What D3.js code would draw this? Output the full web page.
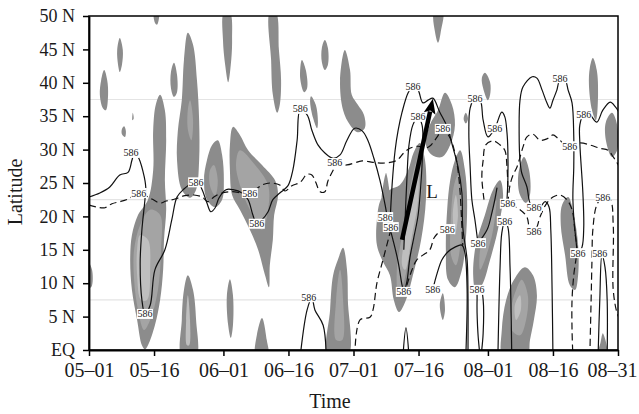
<!DOCTYPE html>
<html>
<head>
<meta charset="utf-8">
<script src="https://cdnjs.cloudflare.com/ajax/libs/d3/7.8.5/d3.min.js"></script>
<style>
	body { margin: 0; background: #fff; }
	svg text { font-family: "Liberation Serif", "Times New Roman", serif; fill: #1a1a1a; }
</style>
</head>
<body>
<svg id="chart" width="639" height="414"></svg>
<script>
"use strict";

// axes
var latTicks = [0, 5, 10, 15, 20, 25, 30, 35, 40, 45, 50];
var latLabels = ['EQ', '5 N', '10 N', '15 N', '20 N', '25 N', '30 N', '35 N', '40 N', '45 N', '50 N'];
var dayTicks = [0, 15, 31, 46, 61, 76, 92, 107, 122];   // days since 05-01
var dayLabels = ['05\u201301', '05\u201316', '06\u201301', '06\u201316', '07\u201301', '07\u201316', '08\u201301', '08\u201316', '08\u201331'];
var gridLats = [7.5, 22.5, 37.5];

// shaded areas, outer level: [day, lat]
var shadeOuter = [
	[[3.5,41.9],[4.2,40.4],[4.4,38.2],[3.9,35.9],[3.2,36.2],[2.5,38.2],[2.8,40.4]],
	[[7.1,46.7],[7.8,44.9],[7.6,42.7],[7.1,41.6],[6.7,42.7],[6.5,44.9]],
	[[15.0,50.5],[16.1,50.5],[15.7,48.7],[15.2,49.0]],
	[[8.1,33.5],[8.5,32.8],[8.3,31.9],[7.6,32.3],[7.6,33.1]],
	[[10.1,35.5],[10.3,34.6],[10.0,34.4]],
	[[16.4,38.2],[17.5,35.9],[17.8,31.4],[17.5,25.4],[17.8,21.0],[17.3,16.5],[17.1,12.0],[16.4,7.5],[15.2,3.7],[13.6,0.7],[12.9,0.1],[12.2,0.7],[11.1,4.5],[9.9,9.0],[9.5,13.5],[9.9,17.2],[11.3,20.2],[13.6,22.5],[14.8,26.9],[14.8,32.9],[15.4,36.7]],
	[[22.8,47.5],[24.0,45.7],[24.9,40.4],[25.4,34.4],[25.4,28.4],[24.7,24.0],[23.3,22.8],[21.4,24.0],[20.3,28.4],[20.5,32.9],[21.4,37.4],[21.9,43.4]],
	[[19.6,43.0],[20.3,41.2],[20.3,38.6],[19.6,37.9],[18.9,39.2],[18.9,41.6]],
	[[29.7,31.4],[30.7,29.2],[31.1,25.4],[30.7,22.5],[29.1,21.4],[27.2,22.5],[26.5,25.4],[27.2,28.4],[28.4,30.7]],
	[[31.1,50.5],[32.5,50.5],[33.0,46.4],[32.7,42.7],[32.1,40.1],[31.4,42.7],[30.9,46.4]],
	[[33.2,33.4],[34.8,32.2],[36.7,29.9],[39.9,27.7],[42.9,25.4],[43.6,23.2],[42.7,20.2],[42.4,16.5],[41.7,12.7],[41.5,9.4],[40.6,11.2],[39.0,15.0],[37.1,18.0],[34.8,21.0],[33.0,23.2],[32.5,26.9],[32.5,30.7]],
	[[41.7,50.5],[43.1,50.5],[43.8,44.9],[44.3,40.4],[44.0,36.7],[43.4,35.5],[42.4,38.2],[42.0,43.4]],
	[[49.1,43.4],[50.0,41.9],[50.3,39.2],[49.6,38.6],[48.7,40.7]],
	[[51.2,38.0],[52.3,36.7],[52.8,34.1],[52.6,33.2],[51.7,34.7],[51.0,37.1]],
	[[54.4,46.4],[55.1,45.2],[55.1,42.7],[54.4,41.9],[53.7,43.1],[53.7,45.2]],
	[[59.0,44.9],[60.2,41.9],[60.6,38.2],[62.0,36.7],[63.4,35.2],[63.6,33.2],[62.0,32.6],[60.2,33.7],[58.6,35.9],[57.9,40.4]],
	[[32.5,10.6],[33.2,8.2],[33.2,3.7],[32.7,1.8],[32.1,3.7],[31.8,8.2]],
	[[22.8,11.2],[24.0,9.0],[24.7,4.5],[24.7,-1],[21.4,-1],[21.4,4.5],[21.9,9.0]],
	[[39.9,4.8],[41.0,1.5],[41.3,-1],[38.5,-1],[38.7,2.2]],
	[[58.6,15.3],[59.5,12.0],[59.7,7.5],[59.7,-1],[55.1,-1],[55.6,6.0],[56.3,11.2],[57.4,13.5]],
	[[76.3,31.0],[77.5,28.4],[77.7,22.5],[76.6,16.5],[74.7,11.2],[73.1,7.5],[71.5,5.7],[70.3,7.5],[69.4,11.2],[67.8,13.2],[66.4,15.7],[66.4,19.5],[67.3,22.5],[69.4,24.0],[71.7,24.7],[73.6,26.9],[74.9,29.6]],
	[[68.5,26.5],[69.2,21.0],[67.6,21.0]],
	[[82.1,38.5],[83.7,36.7],[84.4,33.7],[83.3,30.7],[81.4,28.9],[79.1,29.2],[77.7,30.7],[78.6,33.7],[80.5,35.9]],
	[[79.6,50.5],[81.6,50.5],[81.2,47.9],[80.5,46.0],[79.8,47.6]],
	[[91.3,41.5],[92.5,40.1],[92.5,38.2],[92.0,37.4],[90.9,39.2],[90.6,40.7]],
	[[86.9,35.5],[87.4,34.6],[86.9,33.9],[86.4,34.6]],
	[[85.6,29.9],[86.7,26.9],[87.2,22.5],[86.9,16.5],[86.0,12.0],[84.4,9.4],[82.8,10.5],[82.3,15.0],[82.6,21.0],[83.3,25.4],[84.4,28.4]],
	[[94.8,25.4],[95.5,23.2],[94.3,18.0],[92.5,13.5],[90.6,9.7],[89.2,9.0],[88.6,11.2],[89.2,15.7],[91.3,20.2],[93.2,24.0]],
	[[100.3,28.9],[101.5,26.9],[101.7,23.2],[100.8,22.0],[99.4,23.2],[99.0,26.2]],
	[[100.5,12.4],[102.4,11.2],[103.3,8.2],[102.6,4.5],[101.7,1.5],[101.0,-1],[95.5,-1],[95.2,3.0],[96.2,7.5],[98.0,10.5]],
	[[110.5,22.9],[111.8,20.2],[112.8,15.7],[112.8,11.2],[112.1,9.0],[110.9,9.7],[109.8,14.2],[108.8,18.7],[109.1,21.7]],
	[[116.2,43.7],[117.1,41.9],[117.4,38.2],[116.9,34.4],[116.0,35.9],[115.3,39.7],[115.5,42.2]],
	[[120.6,35.5],[121.8,33.7],[121.8,29.9],[120.6,28.9],[119.2,31.4],[119.2,34.1]],
	[[118.5,2.5],[119.5,-1],[117.4,-1],[118.0,1.2]],
	[[81.6,8.5],[82.1,6.0],[81.6,4.5],[80.9,6.7]],
	[[-0.5,13.5],[0.7,12.0],[0.5,9.4],[-0.5,9.4]]
];

// middle level
var shadeMid = [
	[[14.1,21.0],[16.4,20.2],[16.6,15.0],[15.9,9.0],[14.1,4.5],[12.7,3.0],[11.3,6.0],[10.4,10.5],[10.4,15.0],[11.8,18.7]],
	[[23.3,37.4],[24.0,34.4],[23.6,31.4],[22.8,33.0],[22.8,36.0]],
	[[28.8,27.7],[29.7,25.4],[29.1,23.1],[27.9,24.6],[27.9,26.9]],
	[[34.8,29.9],[38.3,27.7],[41.3,24.7],[41.3,21.0],[39.9,18.0],[37.1,21.0],[34.8,24.7],[33.9,27.7]],
	[[57.9,12.0],[58.6,7.5],[58.4,1.5],[57.0,1.5],[57.0,7.5]],
	[[76.1,29.2],[76.8,26.2],[75.9,19.5],[74.0,14.2],[72.4,9.7],[71.3,8.2],[71.0,12.0],[72.2,17.2],[73.6,22.5],[74.9,26.9]],
	[[85.1,26.2],[86.0,22.5],[85.8,16.5],[84.6,12.7],[83.5,14.2],[83.5,20.2],[84.2,24.7]],
	[[93.9,22.5],[93.2,18.0],[91.3,13.5],[90.2,12.0],[90.2,15.0],[92.0,18.7]],
	[[99.8,10.5],[101.2,8.2],[100.8,4.5],[99.4,2.2],[97.5,3.0],[97.5,6.7],[98.5,9.0]]
];

// inner level
var shadeInner = [
	[[11.8,17.2],[13.6,16.5],[14.1,12.0],[13.4,7.5],[12.0,7.5],[11.1,11.2],[11.1,15.0]],
	[[22.8,8.2],[23.3,4.5],[23.1,0.7],[22.6,0.7],[22.4,4.5]],
	[[75.9,26.9],[75.9,22.5],[74.5,17.2],[72.9,12.0],[72.2,12.7],[73.1,17.9],[74.5,23.2]],
	[[84.6,23.2],[85.1,20.2],[84.4,17.2],[83.9,20.2]],
	[[99.4,8.2],[99.6,6.0],[98.5,4.5],[98.2,6.7]]
];

// 586 contours, solid
var contourSolid = [
	[[0,22.9],[2.5,23.5],[4.8,24.4],[7.1,26.2],[9.0,26.6],[9.9,28.4],[10.4,29.3],[11.3,28.9],[12.5,26.6],[13.1,24.3],[12.9,22.5],[12.2,18.0],[11.8,13.0],[12.2,7.5],[12.9,5.4],[14.1,6.7],[15.2,12.0],[17.5,15.0],[19.1,19.5],[20.3,22.9],[21.9,24.1],[23.8,25.0],[25.1,25.1],[26.1,24.0],[27.2,22.0],[28.1,20.7],[29.1,21.3],[30.0,22.8],[31.6,24.0],[33.2,24.0],[35.3,23.5],[36.7,22.5],[37.8,20.2],[38.7,18.9],[39.9,19.5],[41.3,20.7],[42.4,22.5],[44.0,23.5],[45.9,24.6],[47.0,26.9],[48.0,31.4],[48.7,35.9],[50.3,35.2],[51.4,32.9],[52.8,30.7],[54.4,29.5],[56.3,28.7],[57.9,29.2],[59.5,31.4],[61.3,33.2],[63.0,32.8],[64.3,31.4],[65.7,28.7],[67.1,25.4],[68.3,21.7],[69.0,19.2],[70.1,16.5],[71.3,13.2],[72.2,9.7],[72.6,8.7],[73.3,10.2],[74.0,13.8],[74.9,16.8],[75.9,20.2],[76.6,25.4],[77.0,31.4],[76.8,33.7],[75.9,34.9],[74.7,33.7],[73.8,30.7],[73.3,25.4],[72.9,19.5],[72.6,15.0]],
	[[69.4,18.7],[69.9,24.7],[70.6,29.9],[71.3,32.9],[72.2,35.6],[73.6,38.5],[74.7,39.5],[75.9,38.9],[77.0,37.0],[78.2,37.4],[79.3,37.7],[80.9,35.6],[82.6,33.4],[83.9,30.4],[85.1,27.4],[86.0,23.5],[86.2,18.4],[87.2,13.5],[87.4,8.5],[87.4,-1]],
	[[48.7,-1],[50.3,6.0],[51.4,7.8],[52.1,6.0],[54.0,3.7],[54.7,-1]],
	[[72.4,-1],[73.1,3.3],[73.8,-1]],
	[[79.3,9.1],[80.3,11.5],[81.4,13.5],[82.8,14.7],[84.4,15.4],[86.0,15.7],[86.7,14.5],[87.2,9.0],[86.9,-1]],
	[[89.7,16.0],[89.0,19.5],[88.3,22.5],[87.9,27.4],[87.6,32.5],[87.9,36.2],[89.0,37.7],[90.2,37.4],[90.9,34.4],[92.0,31.9],[93.6,33.2],[95.2,35.6],[95.9,34.9],[96.4,32.5],[96.6,29.9],[96.6,25.4],[96.4,22.5]],
	[[89.7,16.0],[91.8,18.0],[92.9,20.5],[93.6,22.5],[94.1,24.3]],
	[[90.2,-1],[89.7,2.5],[89.5,7.5],[89.7,9.1],[90.4,9.1],[90.9,7.5],[90.9,2.5],[90.4,-1]],
	[[94.3,-1],[94.8,12.4],[95.2,17.5],[95.9,19.3],[96.6,18.4],[97.1,12.4],[97.5,-1]],
	[[107.0,-1],[106.8,9.0],[106.5,18.0],[106.1,21.4],[105.2,22.2],[104.0,21.4],[102.6,21.3],[101.7,22.0],[101.0,24.4],[99.8,26.5],[99.4,28.4],[99.2,32.5],[99.4,37.4],[100.1,39.4],[102.2,40.9],[103.3,40.7],[104.5,38.9],[105.6,37.0],[106.3,36.2],[107.0,37.4],[107.9,38.9],[108.6,40.4],[109.8,40.4],[110.5,38.9],[111.4,37.0],[111.8,31.9],[111.8,27.4],[111.6,22.5],[112.3,16.5],[112.8,14.5],[113.7,15.4],[114.1,18.4],[113.9,23.5],[113.2,31.0],[113.2,33.7],[114.1,35.3],[115.5,35.2],[117.1,34.1],[118.5,35.9],[120.2,37.1],[121.4,36.4],[122.5,35.3]],
	[[117.4,-1],[117.8,7.5],[118.3,14.2],[119.0,12.4],[119.5,7.5],[119.5,-1]]
];

// 586 contours, dashed
var contourDashed = [
	[[0,21.7],[1.8,21.4],[3.7,21.3],[5.3,21.9],[7.1,22.2],[9.0,22.6],[10.8,23.2],[12.9,23.1],[14.5,22.6],[16.4,22.0],[17.8,22.3],[19.8,22.6],[22.1,23.1],[24.2,23.2],[26.1,22.9],[27.4,22.2],[28.8,22.9],[30.2,23.4],[33.0,23.7],[36.0,23.5],[38.5,24.1],[39.9,24.7],[41.7,25.0],[44.0,24.7],[45.2,23.8],[46.8,24.6],[48.7,25.1],[50.3,26.3],[51.4,26.2],[52.3,25.1],[53.3,23.7],[54.4,23.7],[55.1,25.3],[56.3,26.9],[57.0,27.7],[59.5,27.7],[63.0,28.3],[65.5,28.1],[68.3,28.0],[71.0,28.4],[72.6,29.5],[74.0,30.2],[75.9,30.5],[77.5,30.2],[78.9,30.7],[80.3,31.9],[81.6,33.1],[83.3,31.7],[84.4,29.5],[85.1,26.9],[85.6,23.5],[86.0,18.4],[86.2,15.7]],
	[[96.6,21.9],[97.1,24.7],[97.8,26.2],[98.7,27.4],[100.1,30.4],[101.0,31.9],[102.4,32.3],[104.0,31.4],[105.6,31.6],[107.0,32.2],[108.1,31.7],[109.3,31.0],[110.9,30.5],[113.2,31.0],[115.5,30.7],[117.8,30.2],[119.7,29.9],[120.9,28.9],[121.8,28.0],[122.5,27.2]],
	[[73.3,9.7],[74.5,12.0],[75.6,13.5],[77.0,14.2],[78.6,15.0],[79.6,16.8],[80.9,17.7],[82.6,18.1]],
	[[61.3,-1],[62.5,4.5],[64.8,4.9],[65.5,6.0],[66.4,10.0],[67.8,13.5],[69.0,16.5],[69.9,18.7]],
	[[94.8,22.5],[96.6,21.9],[99.4,21.0],[101.0,19.9],[101.7,18.0],[102.6,17.7],[103.3,18.4],[104.0,19.9],[105.6,22.0],[107.0,22.9],[108.6,23.2],[110.2,22.5],[111.4,21.0],[112.1,17.5],[112.5,15.0],[111.8,11.2],[111.4,7.5],[111.4,3.0],[111.6,-1]],
	[[91.1,22.5],[90.6,25.9],[90.9,28.4],[91.5,30.7],[93.2,31.3],[94.8,30.7],[95.9,29.9],[96.4,27.4],[96.6,24.4]],
	[[115.5,-1],[115.8,7.5],[116.0,13.5],[116.2,18.0],[117.1,21.7],[118.5,22.9],[120.2,22.5],[120.9,18.7],[120.9,9.0],[121.8,5.5],[122.5,4.5]]
];

// positions of the "586" contour labels
var labels586 = [
	[9.7,29.5],[11.5,23.5],[12.9,5.4],[24.7,25.1],[37.1,23.5],[38.7,18.9],[48.7,36.1],[56.7,28.0],
	[50.7,7.9],[68.3,19.9],[69.6,18.4],[72.6,8.7],[74.7,39.5],[75.9,34.9],[81.6,33.1],[82.6,18.1],
	[79.3,9.1],[89.0,37.7],[93.6,33.2],[89.7,16.0],[89.5,9.0],[95.9,19.3],[96.6,21.9],[102.6,21.3],
	[102.6,17.7],[108.6,40.7],[110.9,30.5],[114.1,35.3],[112.8,14.5],[117.8,14.5],[118.5,22.9]
];

// the "L" arrow: tail and head
var arrowTail = [72.2, 16.5];
var arrowHead = [79.3, 37.6];
var arrowLabel = [79.1, 22.8];

var margin = {left: 89, right: 21, top: 16, bottom: 64};
var width = 639, height = 414;

var svg = d3.select('#chart');

var x = d3.scaleLinear().domain([0, 122]).range([margin.left, width - margin.right]);
var y = d3.scaleLinear().domain([0, 50]).range([height - margin.bottom, margin.top]);

svg.append('defs').append('clipPath')
	.attr('id', 'plot-clip')
	.append('rect')
	.attr('x', x(0))
	.attr('y', y(50))
	.attr('width', x(122) - x(0))
	.attr('height', y(0) - y(50));

//faint grid lines
svg.append('g').selectAll('line').data(gridLats).enter().append('line')
	.attr('x1', x(0)).attr('x2', x(122))
	.attr('y1', function(d) { return y(d); })
	.attr('y2', function(d) { return y(d); })
	.style('stroke', '#e4e4e4')
	.style('stroke-width', 1.2);

var plot = svg.append('g').attr('clip-path', 'url(#plot-clip)');

var area = d3.line()
	.x(function(d) { return x(d[0]); })
	.y(function(d) { return y(d[1]); })
	.curve(d3.curveCatmullRomClosed.alpha(0.5));

var contour = d3.line()
	.x(function(d) { return x(d[0]); })
	.y(function(d) { return y(d[1]); })
	.curve(d3.curveCatmullRom.alpha(0.5));

//shading, darkest first
var levels = [
	{data: shadeOuter, fill: '#8c8c8c'},
	{data: shadeMid, fill: '#a4a4a4'},
	{data: shadeInner, fill: '#bfbfbf'}
];
levels.forEach(function(level) {
	plot.append('g').selectAll('path').data(level.data).enter().append('path')
		.attr('d', area)
		.style('fill', level.fill)
		.style('stroke', 'none');
});

//contour lines
plot.append('g').selectAll('path').data(contourSolid).enter().append('path')
	.attr('d', contour)
	.style('fill', 'none')
	.style('stroke', '#111')
	.style('stroke-width', 1.2);

plot.append('g').selectAll('path').data(contourDashed).enter().append('path')
	.attr('d', contour)
	.style('fill', 'none')
	.style('stroke', '#111')
	.style('stroke-width', 1.2)
	.style('stroke-dasharray', '7,4');

//contour labels with white box
var lab = plot.append('g').selectAll('g').data(labels586).enter().append('g')
	.attr('transform', function(d) { return 'translate(' + x(d[0]) + ',' + y(d[1]) + ')'; });
lab.append('text')
	.attr('text-anchor', 'middle')
	.attr('dy', '0.35em')
	.style('font-size', '10px')
	.text('586');
lab.each(function() {
	var g = d3.select(this);
	var bb = g.select('text').node().getBBox();
	g.insert('rect', 'text')
		.attr('x', bb.x - 0.5)
		.attr('y', bb.y + 0.5)
		.attr('width', bb.width + 1)
		.attr('height', bb.height - 1)
		.style('fill', '#fff');
});

//arrow
var ax0 = x(arrowTail[0]), ay0 = y(arrowTail[1]);
var ax1 = x(arrowHead[0]), ay1 = y(arrowHead[1]);
var len = Math.sqrt((ax1 - ax0) * (ax1 - ax0) + (ay1 - ay0) * (ay1 - ay0));
var ux = (ax1 - ax0) / len, uy = (ay1 - ay0) / len;
var headLen = 15, headHalf = 6;
var bx = ax1 - ux * headLen, by = ay1 - uy * headLen;

svg.append('line')
	.attr('x1', ax0).attr('y1', ay0)
	.attr('x2', bx + ux * 2).attr('y2', by + uy * 2)
	.style('stroke', '#000')
	.style('stroke-width', 4.5);
svg.append('path')
	.attr('d', 'M' + ax1 + ',' + ay1 +
		'L' + (bx - uy * headHalf) + ',' + (by + ux * headHalf) +
		'L' + (bx + ux * 3) + ',' + (by + uy * 3) +
		'L' + (bx + uy * headHalf) + ',' + (by - ux * headHalf) + 'Z')
	.style('fill', '#000');

svg.append('text')
	.attr('x', x(arrowLabel[0]))
	.attr('y', y(arrowLabel[1]))
	.attr('text-anchor', 'middle')
	.style('font-size', '19px')
	.text('L');

//frame
svg.append('rect')
	.attr('x', x(0)).attr('y', y(50))
	.attr('width', x(122) - x(0))
	.attr('height', y(0) - y(50))
	.style('fill', 'none')
	.style('stroke', '#000')
	.style('stroke-width', 1.5);

//axes
var yAxis = d3.axisLeft(y)
	.tickValues(latTicks)
	.tickFormat(function(d, i) { return latLabels[i]; })
	.tickSize(6)
	.tickSizeOuter(0)
	.tickPadding(8);

var xAxis = d3.axisBottom(x)
	.tickValues(dayTicks)
	.tickFormat(function(d, i) { return dayLabels[i]; })
	.tickSize(6)
	.tickSizeOuter(0)
	.tickPadding(7);

var gy = svg.append('g')
	.attr('transform', 'translate(' + x(0) + ',0)')
	.call(yAxis);
var gx = svg.append('g')
	.attr('transform', 'translate(0,' + y(0) + ')')
	.call(xAxis);

[gx, gy].forEach(function(g) {
	g.select('.domain').style('stroke', '#000').style('stroke-width', 1.8);
	g.selectAll('.tick line').style('stroke', '#000').style('stroke-width', 1.5);
	g.selectAll('.tick text')
		.style('font-family', '"Liberation Serif", serif')
		.style('fill', '#1a1a1a');
});
gy.selectAll('.tick text').style('font-size', '18px');
gx.selectAll('.tick text').style('font-size', '20px');

//last date label is pulled in so it stays inside the picture
gx.selectAll('.tick text')
	.filter(function(d) { return d === dayTicks[dayTicks.length - 1]; })
	.attr('text-anchor', 'end')
	.attr('x', 19);

//axis titles
svg.append('text')
	.attr('x', 330)
	.attr('y', 408)
	.attr('text-anchor', 'middle')
	.style('font-size', '20px')
	.text('Time');

svg.append('text')
	.attr('transform', 'translate(22,' + 192 + ') rotate(-90)')
	.attr('text-anchor', 'middle')
	.style('font-size', '20px')
	.text('Latitude');
</script>
</body>
</html>
